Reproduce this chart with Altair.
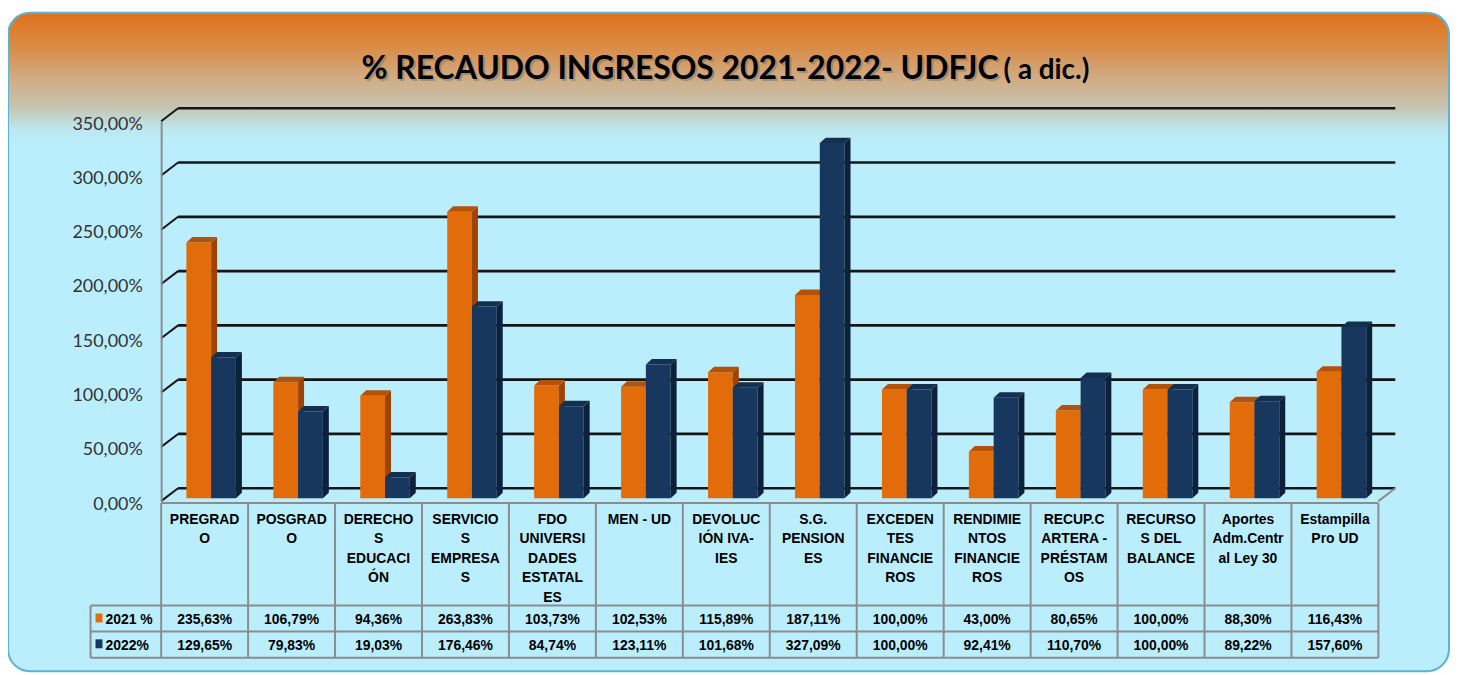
import altair as alt
import pandas as pd

# ---------------- data ----------------
categories = ["PREGRADO", "POSGRADO", "DERECHOS EDUCACIÓN", "SERVICIOS EMPRESAS",
              "FDO UNIVERSIDADES ESTATALES", "MEN - UD", "DEVOLUCIÓN IVA-IES", "S.G. PENSIONES",
              "EXCEDENTES FINANCIEROS", "RENDIMIENTOS FINANCIEROS", "RECUP.CARTERA - PRÉSTAMOS",
              "RECURSOS DEL BALANCE", "Aportes Adm.Central Ley 30", "Estampilla Pro UD"]
header_labels = ["PREGRAD\nO", "POSGRAD\nO", "DERECHO\nS\nEDUCACI\nÓN", "SERVICIO\nS\nEMPRESA\nS",
                 "FDO\nUNIVERSI\nDADES\nESTATAL\nES", "MEN - UD", "DEVOLUC\nIÓN IVA-\nIES",
                 "S.G.\nPENSION\nES", "EXCEDEN\nTES\nFINANCIE\nROS", "RENDIMIE\nNTOS\nFINANCIE\nROS",
                 "RECUP.C\nARTERA -\nPRÉSTAM\nOS", "RECURSO\nS DEL\nBALANCE",
                 "Aportes\nAdm.Centr\nal Ley 30", "Estampilla\nPro UD"]
v2021 = [235.63, 106.79, 94.36, 263.83, 103.73, 102.53, 115.89, 187.11, 100.00, 43.00, 80.65, 100.00, 88.30, 116.43]
v2022 = [129.65, 79.83, 19.03, 176.46, 84.74, 123.11, 101.68, 327.09, 100.00, 92.41, 110.70, 100.00, 89.22, 157.60]
series_names = ["2021 %", "2022%"]
y_ticks = [0, 50, 100, 150, 200, 250, 300, 350]
title_main = "% RECAUDO INGRESOS 2021-2022- UDFJC"
title_suffix = "( a dic.)"

# ---------------- layout ----------------
W, H = 1224, 382
N = len(categories)
PX_X = W / N
PX_Y = H / 350.0
PLOT_BOTTOM_IMG = 502.0  # page y of value 0 (front plane)


def uy(img_y):
    return (PLOT_BOTTOM_IMG - img_y) / PX_Y


def ux(img_x):
    return (img_x - 162.0) / PX_X


BACK_DX = 17 / PX_X
BACK_DY = 13 / PX_Y
BASE = 3 / PX_Y
DEPTH_X = 6 / PX_X
DEPTH_Y = 5.5 / PX_Y
SLOTS = [(0.29, 0.575), (0.575, 0.86)]

XS = alt.Scale(domain=[0, N], nice=False, zero=False)
YS = alt.Scale(domain=[0, 350], nice=False, zero=False)

FONT = "Liberation Sans"
TFONT = "Lato"
GRID_C = "#161616"
TABLE_C = "#8c8c8c"

# ---------------- background panel ----------------
bg = alt.Chart(pd.DataFrame({"a": [0]})).mark_rect(
    cornerRadius=22, stroke="#5bb4d4", strokeWidth=2,
    fill=alt.LinearGradient(gradient="linear", x1=0, x2=0, y1=0, y2=1, stops=[
        alt.GradientStop(color="#e0711a", offset=0.0),
        alt.GradientStop(color="#da8b44", offset=0.05),
        alt.GradientStop(color="#d0ac84", offset=0.10),
        alt.GradientStop(color="#c6c6b4", offset=0.145),
        alt.GradientStop(color="#bde6ee", offset=0.175),
        alt.GradientStop(color="#bbeefc", offset=0.2),
        alt.GradientStop(color="#bbeefc", offset=1.0),
    ])
).encode(x=alt.value(-154), x2=alt.value(1295), y=alt.value(-109), y2=alt.value(553))

# ---------------- title ----------------
tdf = pd.DataFrame({"t": [title_main], "s": [title_suffix]})
title_shadow = alt.Chart(tdf).mark_text(
    align="right", baseline="alphabetic", font=TFONT, fontWeight="bold", fontSize=32,
    color="#6b6b6b", opacity=0.45, dx=2, dy=2
).encode(x=alt.value(842), y=alt.value(-42), text="t:N")
title_text = alt.Chart(tdf).mark_text(
    align="right", baseline="alphabetic", font=TFONT, fontWeight="bold", fontSize=32, color="#000000"
).encode(x=alt.value(842), y=alt.value(-42), text="t:N")
suffix_text = alt.Chart(tdf).mark_text(
    align="left", baseline="alphabetic", font=TFONT, fontWeight="bold", fontSize=28, color="#000000"
).encode(x=alt.value(847), y=alt.value(-42), text="s:N")

# ---------------- walls / grid ----------------
grid_df = pd.DataFrame({"v": y_ticks})
grid_df["gb"] = grid_df["v"] + BACK_DY
grid_df["bx0"] = BACK_DX
grid_df["bx1"] = N + BACK_DX
grid_df["lx0"] = 0.0

back_lines = alt.Chart(grid_df).mark_rule(color=GRID_C, strokeWidth=2.6).encode(
    x=alt.X("bx0:Q", scale=XS, axis=None), x2="bx1:Q",
    y=alt.Y("gb:Q", scale=YS, axis=None))

slants = alt.Chart(grid_df).mark_rule(color=GRID_C, strokeWidth=2).encode(
    x=alt.X("lx0:Q", scale=XS, axis=None), x2="bx0:Q",
    y=alt.Y("v:Q", scale=YS, axis=alt.Axis(
        values=y_ticks, title=None, ticks=False, grid=False, domain=True,
        domainColor="#8c8c8c", domainWidth=2, labelFont="Lato", labelFontSize=18,
        labelColor="#333333", labelPadding=19, labelOffset=3, zindex=1,
        labelExpr="replace(format(datum.value, '.2f'), '.', ',') + '%'")),
    y2="gb:Q")

# ---------------- table ----------------
T_TOP, T_R1, T_R2, T_R3 = uy(504), uy(607), uy(633), uy(659.5)
LBL_L = ux(91)
seg = []
seg.append((0, N, T_TOP, T_TOP))
for yy in (T_R1, T_R2, T_R3):
    seg.append((LBL_L, N, yy, yy))
for i in range(N + 1):
    seg.append((i, i, T_TOP, T_R3))
seg.append((LBL_L, LBL_L, T_R1, T_R3))
seg.append((N, N + BACK_DX, 0, BACK_DY))  # right floor edge
seg_df = pd.DataFrame(seg, columns=["x0", "x1", "y0", "y1"])
table_lines = alt.Chart(seg_df).mark_rule(color=TABLE_C, strokeWidth=2).encode(
    x=alt.X("x0:Q", scale=XS, axis=None), x2="x1:Q",
    y=alt.Y("y0:Q", scale=YS, axis=None), y2="y1:Q")

hdr_df = pd.DataFrame({"c": categories, "lab": header_labels})
hdr_df["x"] = [i + 0.5 for i in range(N)]
hdr_df["y"] = uy(514)
headers = alt.Chart(hdr_df).mark_text(
    align="center", baseline="top", lineBreak="\n", lineHeight=19.5,
    font=FONT, fontWeight="bold", fontSize=14, color="#000000"
).encode(x=alt.X("x:Q", scale=XS, axis=None), y=alt.Y("y:Q", scale=YS, axis=None), text="lab:N")

val_rows = []
for s, vals, yimg in ((series_names[0], v2021, 625.5), (series_names[1], v2022, 651.5)):
    for i, v in enumerate(vals):
        val_rows.append({"s": s, "x": i + 0.5, "y": uy(yimg),
                         "t": f"{v:.2f}".replace(".", ",") + "%"})
val_df = pd.DataFrame(val_rows)
values_text = alt.Chart(val_df).mark_text(
    align="center", baseline="alphabetic", font=FONT, fontWeight="bold", fontSize=14, color="#000000"
).encode(x=alt.X("x:Q", scale=XS, axis=None), y=alt.Y("y:Q", scale=YS, axis=None), text="t:N")

lab_df = pd.DataFrame({"s": series_names, "x": [ux(106)] * 2, "y": [uy(625.5), uy(651.5)],
                       "sx0": [ux(96)] * 2, "sx1": [ux(103)] * 2,
                       "sy0": [uy(624), uy(650)], "sy1": [uy(615), uy(641)],
                       "col": ["#e36c0a", "#17375e"]})
row_labels = alt.Chart(lab_df).mark_text(
    align="left", baseline="alphabetic", font=FONT, fontWeight="bold", fontSize=14, color="#000000"
).encode(x=alt.X("x:Q", scale=XS, axis=None), y=alt.Y("y:Q", scale=YS, axis=None), text="s:N")
swatches = alt.Chart(lab_df).mark_rect().encode(
    x=alt.X("sx0:Q", scale=XS, axis=None), x2="sx1:Q",
    y=alt.Y("sy0:Q", scale=YS, axis=None), y2="sy1:Q",
    color=alt.Color("col:N", scale=None))


# ---------------- 3D bars ----------------
def bar_layers(vals, slot, c_front, c_side, c_top):
    a, b = slot
    front = pd.DataFrame({"c": categories,
                          "x0": [i + a for i in range(N)], "x1": [i + b for i in range(N)],
                          "top": [v + BASE for v in vals], "base": [BASE] * N})
    side_rows, top_rows = [], []
    for i, v in enumerate(vals):
        side_rows.append({"id": i, "x": i + b, "top": v + BASE, "bot": BASE})
        side_rows.append({"id": i, "x": i + b + DEPTH_X, "top": v + BASE + DEPTH_Y, "bot": BASE + DEPTH_Y})
        top_rows.append({"id": i, "y": v + BASE, "xa": i + a, "xb": i + b})
        top_rows.append({"id": i, "y": v + BASE + DEPTH_Y, "xa": i + a + DEPTH_X, "xb": i + b + DEPTH_X})
    f = alt.Chart(front).mark_rect(color=c_front).encode(
        x=alt.X("x0:Q", scale=XS, axis=None), x2="x1:Q",
        y=alt.Y("top:Q", scale=YS, axis=None), y2="base:Q")
    s = alt.Chart(pd.DataFrame(side_rows)).mark_area(color=c_side, interpolate="linear").encode(
        x=alt.X("x:Q", scale=XS, axis=None),
        y=alt.Y("top:Q", scale=YS, axis=None, stack=None), y2="bot:Q",
        detail="id:N")
    t = alt.Chart(pd.DataFrame(top_rows)).mark_area(color=c_top, orient="horizontal",
                                                      interpolate="linear").encode(
        y=alt.Y("y:Q", scale=YS, axis=None),
        x=alt.X("xa:Q", scale=XS, axis=None, stack=None), x2="xb:Q",
        detail="id:N")
    return [f, s, t]


bars = bar_layers(v2021, SLOTS[0], "#e36c0a", "#9c4306", "#b4520a") + \
       bar_layers(v2022, SLOTS[1], "#17375e", "#0d213b", "#13304f")

chart = alt.layer(
    bg, title_shadow, title_text, suffix_text,
    back_lines, slants, table_lines, headers, values_text, row_labels, swatches,
    *bars
).resolve_axis(y="independent", x="independent").properties(
    width=W, height=H,
    padding={"left": 154, "top": 112, "right": 72, "bottom": 173},
    autosize=alt.AutoSizeParams(type="none"),
    background="#ffffff"
).configure_view(strokeWidth=0)

chart.save("out.html", embed_options={"renderer": "svg", "actions": False})
